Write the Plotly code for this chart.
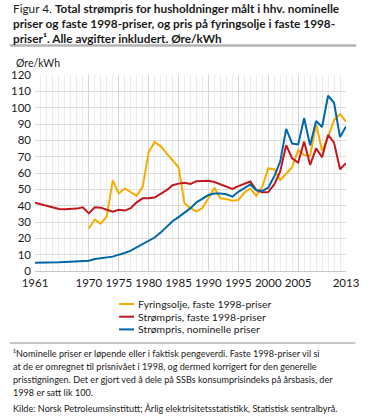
import plotly.graph_objects as go

years = list(range(1961, 2014))

nominell = [5.0, 5.0, 5.1, 5.2, 5.3, 5.5, 5.7, 5.9, 6.1, 6.3,
            7.3, 7.8, 8.3, 8.8, 10.0, 11.0, 12.5, 14.5, 16.3, 18.0,
            20.5, 23.5, 27.0, 30.5, 33.0, 35.5, 38.5, 42.0, 44.0, 46.5,
            47.5, 47.5, 47.0, 45.5, 48.5, 51.0, 53.0, 49.5, 49.0, 51.0,
            58.0, 67.0, 87.0, 78.0, 77.5, 93.5, 77.0, 91.8, 88.2, 107.3,
            103.0, 82.0, 88.4]

strom_faste = [41.8, 40.8, 40.0, 39.0, 38.0, 37.8, 37.8, 38.2, 39.0, 35.3,
               39.0, 38.8, 37.5, 36.3, 37.5, 37.0, 38.5, 42.0, 44.5, 44.5,
               45.0, 47.0, 49.5, 52.5, 53.5, 54.0, 53.3, 55.0, 55.0, 55.2,
               54.5, 53.0, 52.0, 50.2, 52.0, 53.5, 54.8, 49.5, 48.2, 48.3,
               53.0, 61.0, 77.0, 69.0, 66.3, 79.2, 65.0, 75.1, 69.6, 83.3,
               78.6, 62.3, 66.0]

fyringsolje = [None] * 9 + [
    26.0, 31.5, 29.0, 33.5, 55.5, 47.5, 50.5, 48.5, 46.0, 51.5,
    72.5, 79.0, 76.5, 72.0, 68.0, 63.5, 41.5, 38.5, 36.5, 38.5,
    44.5, 51.0, 44.5, 44.0, 43.0, 43.5, 48.0, 50.5, 46.0, 51.5,
    62.8, 62.3, 55.7, 59.4, 63.5, 74.0, 71.0, 70.5, 90.0, 73.5,
    82.0, 92.5, 96.0, 91.4]

series_names = ["Fyringsolje, faste 1998-priser",
                "Strømpris, faste 1998-priser",
                "Strømpris, nominelle priser"]

tick_years = [1961, 1970, 1975, 1980, 1985, 1990, 1995, 2000, 2005, 2013]
y_ticks = list(range(0, 121, 10))

FONT = "Lato"
YELLOW = "#f5ad00"
RED = "#c4171d"
BLUE = "#0068a8"
colors = [YELLOW, RED, BLUE]

fig = go.Figure()
for name, vals, col in zip(series_names, [fyringsolje, strom_faste, nominell], colors):
    fig.add_trace(go.Scatter(x=years, y=vals, mode="lines", name=name,
                             line=dict(color=col, width=2)))

L, R, T, B = 27, 11, 75, 145
W, H = 371, 416
PW, PH = W - L - R, H - T - B

def px(xp):
    return (xp - L) / PW

def py(yp):
    return (H - B - yp) / PH

fig.update_layout(
    width=W, height=H,
    margin=dict(l=L, r=R, t=T, b=B),
    paper_bgcolor="white", plot_bgcolor="white",
    font=dict(family=FONT, size=11.5, color="#1a1a1a"),
    showlegend=False,
    xaxis=dict(range=[1961, 2013], tickmode="array", tickvals=tick_years,
               ticktext=[str(t) for t in tick_years],
               showgrid=True, gridcolor="#d4d4d4", gridwidth=1,
               minor=dict(tick0=1961, dtick=1, showgrid=True, gridcolor="#ebebeb", gridwidth=1),
               zeroline=False, showline=False, ticks="", ticklabelstandoff=3,
               ticklabeloverflow="allow",
               tickfont=dict(size=11.5)),
    yaxis=dict(range=[0, 120], tickmode="array", tickvals=y_ticks,
               showgrid=True, gridcolor="#dcdcdc", gridwidth=1,
               zeroline=True, zerolinecolor="#c8c8c8", zerolinewidth=1,
               showline=False, ticks="", ticklabelstandoff=3,
               tickfont=dict(size=11.5)),
)

title_lines = [
    "Figur 4. <b>Total strømpris for husholdninger målt i hhv. nominelle</b>",
    "<b>priser og faste 1998-priser, og pris på fyringsolje i faste 1998-</b>",
    "<b>priser¹. Alle avgifter inkludert. Øre/kWh</b>",
]
for i, t in enumerate(title_lines):
    fig.add_annotation(text=t, xref="paper", yref="paper", x=px(1), y=py(9 + 14.5 * i),
                       xanchor="left", yanchor="middle", showarrow=False,
                       font=dict(size=11.8, color="#1a1a1a"))

fig.add_shape(type="line", xref="paper", yref="paper", x0=px(0), x1=px(371),
              y0=py(45.5), y1=py(45.5), line=dict(color="#b4b4b4", width=2.5))

fig.add_annotation(text="Øre/kWh", xref="paper", yref="paper", x=px(4), y=py(63),
                   xanchor="left", yanchor="middle", showarrow=False, font=dict(size=10.5))

# legend (swatches + labels)
for i, (name, col) in enumerate(zip(series_names, colors)):
    yy = py(304 + 12.7 * i)
    fig.add_shape(type="line", xref="paper", yref="paper", x0=px(117), x1=px(133),
                  y0=yy, y1=yy, line=dict(color=col, width=2))
    fig.add_annotation(text=name, xref="paper", yref="paper", x=px(135), y=yy,
                       xanchor="left", yanchor="middle", showarrow=False,
                       font=dict(size=10.4, color="#1a1a1a"))

fig.add_shape(type="line", xref="paper", yref="paper", x0=px(0), x1=px(370),
              y0=py(343), y1=py(343), line=dict(color="#8c8c8c", width=1))

foot = [
    "¹Nominelle priser er løpende eller i faktisk pengeverdi. Faste 1998-priser vil si",
    "at de er omregnet til prisnivået i 1998, og dermed korrigert for den generelle",
    "prisstigningen. Det er gjort ved å dele på SSBs konsumprisindeks på årsbasis, der",
    "1998 er satt lik 100.",
]
for i, t in enumerate(foot):
    fig.add_annotation(text=t, xref="paper", yref="paper", x=px(1), y=py(353 + 13.3 * i),
                       xanchor="left", yanchor="middle", showarrow=False,
                       font=dict(size=9.1, color="#1a1a1a"))
fig.add_annotation(text="Kilde: Norsk Petroleumsinstitutt; Årlig elektrisitetsstatistikk, Statistisk sentralbyrå.",
                   xref="paper", yref="paper", x=px(1), y=py(408),
                   xanchor="left", yanchor="middle", showarrow=False,
                   font=dict(size=9.1, color="#1a1a1a"))

fig.write_html("out.html",
               config={"displayModeBar": False},
               post_script="document.body.style.margin='0';document.body.style.padding='0';")
